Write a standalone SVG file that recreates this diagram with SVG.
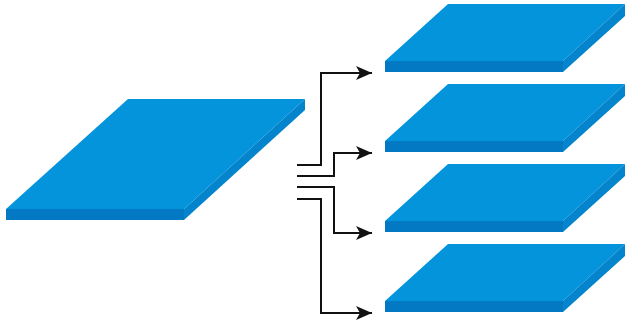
<svg xmlns="http://www.w3.org/2000/svg" width="625" height="323" viewBox="0 0 625 323">
<style>
.top{fill:#0494DC}
.front{fill:#0279C2}
.side{fill:#0384CC}
.conn{fill:none;stroke:#111;stroke-width:2}
</style>
<defs>
<marker id="ah" markerUnits="userSpaceOnUse" markerWidth="18" markerHeight="14" refX="16" refY="7" orient="auto">
<path d="M0,0 L16,7 L0,14 L4,7 Z" fill="#111"/>
</marker>
<g id="slab">
<polygon class="top" points="63,0 240,0 178,57 0,57"/>
<polygon class="front" points="0,57 178,57 178,68 0,68"/>
<polygon class="side" points="240,0 240,12 178,68 178,57"/>
</g>
</defs>
<rect width="625" height="323" fill="#fff"/>
<g id="source">
<polygon class="top" points="128,99 305,99 184,209 6,209"/>
<polygon class="front" points="6,209 184,209 184,220 6,220"/>
<polygon class="side" points="305,99 305,110 184,220 184,209"/>
</g>
<g id="target1"><use href="#slab" x="385" y="4"/></g>
<g id="target2"><use href="#slab" x="385" y="84"/></g>
<g id="target3"><use href="#slab" x="385" y="164"/></g>
<g id="target4"><use href="#slab" x="385" y="244"/></g>
<g id="connectors">
<path class="conn" d="M297,165 H321 V73 H372" marker-end="url(#ah)"/>
<path class="conn" d="M297,176 H334 V153 H372" marker-end="url(#ah)"/>
<path class="conn" d="M297,187 H334 V233 H372" marker-end="url(#ah)"/>
<path class="conn" d="M297,199 H321 V313 H372" marker-end="url(#ah)"/>
</g>
</svg>
